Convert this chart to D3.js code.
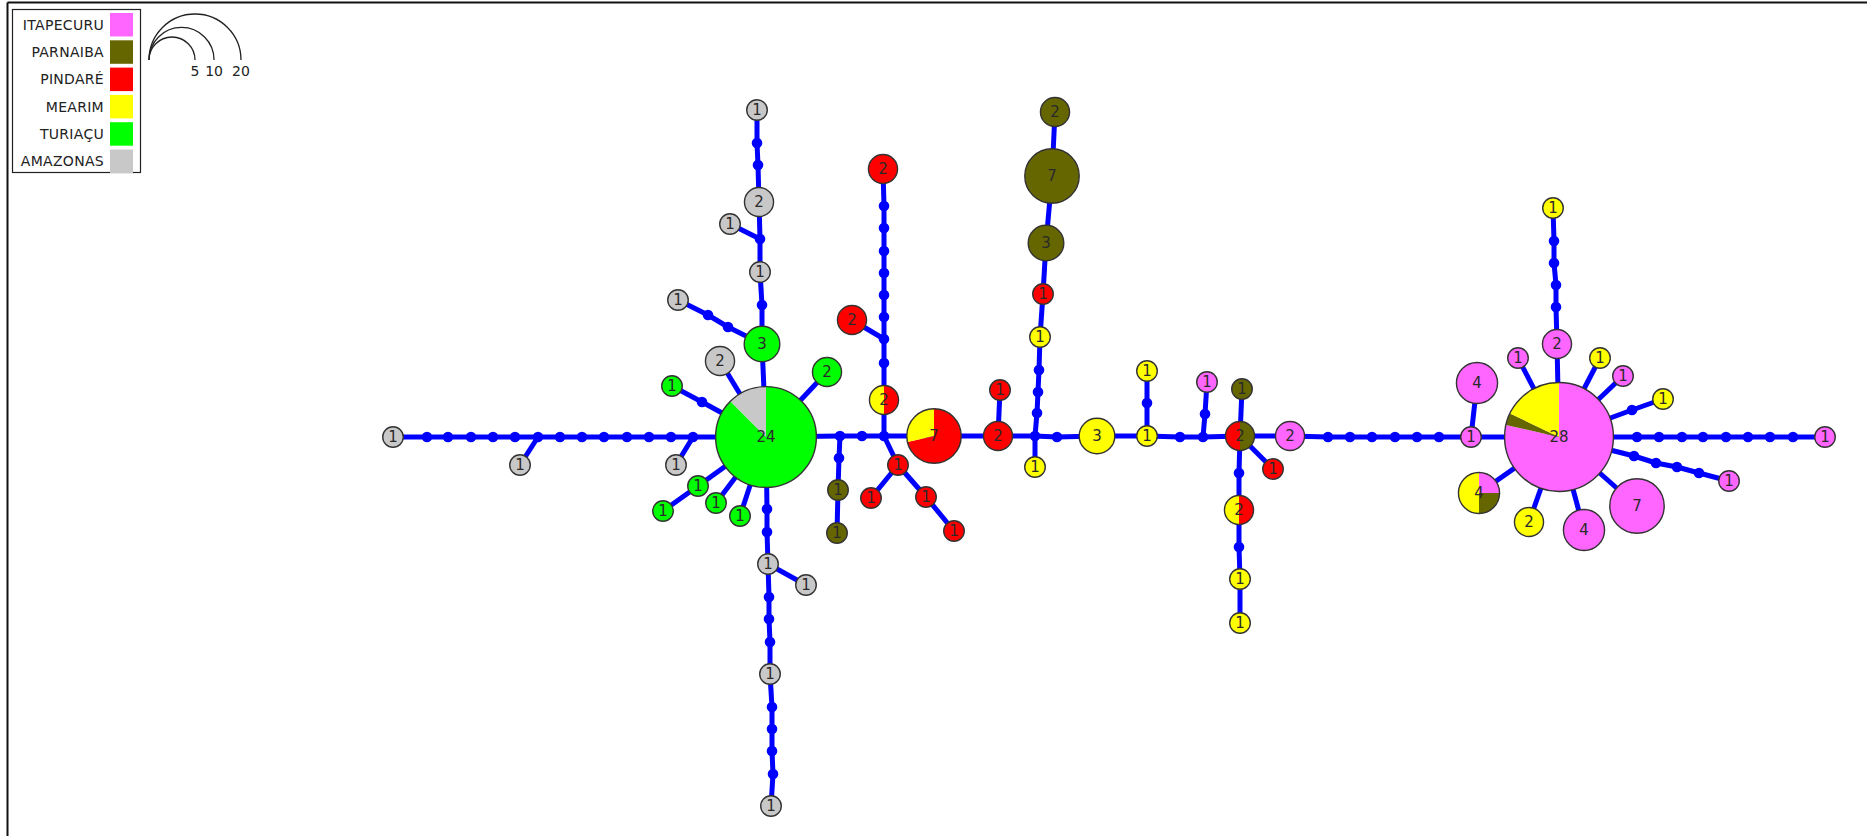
<!DOCTYPE html>
<html>
<head>
<meta charset="utf-8">
<script src="https://cdn.jsdelivr.net/npm/d3@7"></script>
<style>
  html, body { margin: 0; padding: 0; background: #fff; overflow: hidden; }
  svg { display: block; }
  text { font-family: "DejaVu Sans", Verdana, sans-serif; }
</style>
</head>
<body>
<svg id="chart" width="1867" height="836"></svg>
<script>
// ── Data ──────────────────────────────────────────────────────────────────────
const populations = ["ITAPECURU", "PARNAIBA", "PINDARÉ", "MEARIM", "TURIAÇU", "AMAZONAS"];
const popColors = ["#ff66ff", "#666600", "#ff0000", "#ffff00", "#00ff00", "#c8c8c8"];
const sizeLegend = [5, 10, 20];

// haplotype id, counts per population (same order as populations)
const haplotypes = [
  ["H1", [0, 0, 0, 0, 21, 3]], ["H2", [0, 0, 0, 0, 0, 1]], ["H3", [0, 0, 0, 0, 0, 2]],
  ["H4", [0, 0, 0, 0, 0, 1]], ["H5", [0, 0, 0, 0, 0, 1]], ["H6", [0, 0, 0, 0, 3, 0]],
  ["H7", [0, 0, 0, 0, 0, 1]], ["H8", [0, 0, 0, 0, 0, 2]], ["H9", [0, 0, 0, 0, 2, 0]],
  ["H10", [0, 0, 0, 0, 1, 0]], ["H11", [0, 0, 0, 0, 0, 1]], ["H12", [0, 0, 0, 0, 0, 1]],
  ["H13", [0, 0, 0, 0, 0, 1]], ["H14", [0, 0, 0, 0, 1, 0]], ["H15", [0, 0, 0, 0, 1, 0]],
  ["H16", [0, 0, 0, 0, 1, 0]], ["H17", [0, 0, 0, 0, 1, 0]], ["H18", [0, 0, 0, 0, 0, 1]],
  ["H19", [0, 0, 0, 0, 0, 1]], ["H20", [0, 0, 0, 0, 0, 1]], ["H21", [0, 0, 0, 0, 0, 1]],
  ["H22", [0, 1, 0, 0, 0, 0]], ["H23", [0, 1, 0, 0, 0, 0]], ["H24", [0, 0, 1, 1, 0, 0]],
  ["H25", [0, 0, 2, 0, 0, 0]], ["H26", [0, 0, 2, 0, 0, 0]], ["H27", [0, 0, 1, 0, 0, 0]],
  ["H28", [0, 0, 1, 0, 0, 0]], ["H29", [0, 0, 1, 0, 0, 0]], ["H30", [0, 0, 1, 0, 0, 0]],
  ["H31", [0, 0, 5, 2, 0, 0]], ["H32", [0, 0, 2, 0, 0, 0]], ["H33", [0, 0, 1, 0, 0, 0]],
  ["H34", [0, 0, 0, 1, 0, 0]], ["H35", [0, 0, 0, 1, 0, 0]], ["H36", [0, 0, 1, 0, 0, 0]],
  ["H37", [0, 3, 0, 0, 0, 0]], ["H38", [0, 7, 0, 0, 0, 0]], ["H39", [0, 2, 0, 0, 0, 0]],
  ["H40", [0, 0, 0, 3, 0, 0]], ["H41", [0, 0, 0, 1, 0, 0]], ["H42", [0, 0, 0, 1, 0, 0]],
  ["H43", [1, 0, 0, 0, 0, 0]], ["H44", [0, 1, 1, 0, 0, 0]], ["H45", [0, 1, 0, 0, 0, 0]],
  ["H46", [2, 0, 0, 0, 0, 0]], ["H47", [0, 0, 1, 0, 0, 0]], ["H48", [0, 0, 1, 1, 0, 0]],
  ["H49", [0, 0, 0, 1, 0, 0]], ["H50", [0, 0, 0, 1, 0, 0]], ["H51", [1, 0, 0, 0, 0, 0]],
  ["H52", [4, 0, 0, 0, 0, 0]], ["H53", [22, 1, 0, 5, 0, 0]], ["H54", [2, 0, 0, 0, 0, 0]],
  ["H55", [0, 0, 0, 1, 0, 0]], ["H56", [1, 0, 0, 0, 0, 0]], ["H57", [0, 0, 0, 1, 0, 0]],
  ["H58", [1, 0, 0, 0, 0, 0]], ["H59", [0, 0, 0, 1, 0, 0]], ["H60", [1, 0, 0, 0, 0, 0]],
  ["H61", [1, 0, 0, 0, 0, 0]], ["H62", [7, 0, 0, 0, 0, 0]], ["H63", [4, 0, 0, 0, 0, 0]],
  ["H64", [0, 0, 0, 2, 0, 0]], ["H65", [1, 1, 0, 2, 0, 0]],
];

// network layout (layout units), haplotypes and median vectors
const layout = [
  ["H1", 766, 437], ["H2", 757, 110], ["H3", 759, 202], ["H4", 730, 224], ["H5", 760, 272],
  ["H6", 762, 344], ["H7", 678, 300], ["H8", 720, 361], ["H9", 827, 372], ["H10", 672, 386],
  ["H11", 393, 437], ["H12", 520, 465], ["H13", 676, 465], ["H14", 698, 486], ["H15", 663, 511],
  ["H16", 716, 503], ["H17", 740, 516], ["H18", 768, 564], ["H19", 806, 585], ["H20", 770, 674],
  ["H21", 771, 806], ["H22", 838, 490], ["H23", 837, 533], ["H24", 884, 400], ["H25", 852, 320],
  ["H26", 883, 169], ["H27", 898, 465], ["H28", 871, 498], ["H29", 926, 497], ["H30", 954, 531],
  ["H31", 934, 436], ["H32", 998, 436], ["H33", 1000, 390], ["H34", 1035, 467], ["H35", 1040, 337],
  ["H36", 1043, 294], ["H37", 1046, 243], ["H38", 1052, 176], ["H39", 1055, 112], ["H40", 1097, 436],
  ["H41", 1147, 436], ["H42", 1147, 371], ["H43", 1207, 382], ["H44", 1240, 436], ["H45", 1242, 389],
  ["H46", 1290, 436], ["H47", 1273, 469], ["H48", 1239, 510], ["H49", 1240, 579], ["H50", 1240, 623],
  ["H51", 1471, 437], ["H52", 1477, 383], ["H53", 1559, 437], ["H54", 1557, 344], ["H55", 1553, 208],
  ["H56", 1518, 358], ["H57", 1600, 358], ["H58", 1623, 376], ["H59", 1663, 399], ["H60", 1825, 437],
  ["H61", 1729, 481], ["H62", 1637, 506], ["H63", 1584, 530], ["H64", 1529, 522], ["H65", 1479, 493],
  ["mv1", 762, 305], ["mv2", 760, 239], ["mv3", 758, 165], ["mv4", 757, 143],
  ["mv5", 728, 327], ["mv6", 708, 315], ["mv7", 702, 402],
  ["mv8", 693, 437], ["mv9", 671, 437], ["mv10", 649, 437], ["mv11", 627, 437], ["mv12", 604, 437],
  ["mv13", 582, 437], ["mv14", 560, 437], ["mv15", 538, 437], ["mv16", 515, 437], ["mv17", 493, 437],
  ["mv18", 471, 437], ["mv19", 448, 437], ["mv20", 427, 437],
  ["mv21", 767, 509], ["mv22", 767, 532], ["mv23", 769, 597], ["mv24", 769, 619], ["mv25", 770, 642],
  ["mv26", 772, 707], ["mv27", 772, 729], ["mv28", 772, 751], ["mv29", 773, 774],
  ["mv30", 840, 436], ["mv31", 862, 436], ["mv32", 884, 436], ["mv33", 839, 458],
  ["mv34", 884, 363], ["mv35", 884, 339], ["mv36", 884, 317], ["mv37", 884, 295], ["mv38", 884, 273],
  ["mv39", 884, 251], ["mv40", 884, 228], ["mv41", 884, 206],
  ["mv42", 1035, 436], ["mv43", 1037, 413], ["mv44", 1038, 392], ["mv45", 1039, 370],
  ["mv46", 1057, 437], ["mv47", 1147, 403], ["mv48", 1180, 437], ["mv49", 1203, 437], ["mv50", 1205, 414],
  ["mv51", 1239, 473], ["mv52", 1239, 547],
  ["mv53", 1328, 437], ["mv54", 1350, 437], ["mv55", 1372, 437], ["mv56", 1395, 437], ["mv57", 1417, 437],
  ["mv58", 1439, 437],
  ["mv59", 1556, 307], ["mv60", 1556, 285], ["mv61", 1554, 263], ["mv62", 1554, 241], ["mv63", 1632, 410],
  ["mv64", 1637, 437], ["mv65", 1659, 437], ["mv66", 1682, 437], ["mv67", 1703, 437], ["mv68", 1726, 437],
  ["mv69", 1748, 437], ["mv70", 1770, 437], ["mv71", 1793, 437],
  ["mv72", 1634, 456], ["mv73", 1656, 463], ["mv74", 1677, 467], ["mv75", 1699, 473],
];

// connections, written as chains of consecutive mutational steps
const edgePaths = [
  ["H1", "H6", "mv1", "H5", "mv2", "H3", "mv3", "mv4", "H2"], ["mv2", "H4"],
  ["H6", "mv5", "mv6", "H7"], ["H1", "mv7", "H10"],
  ["H1", "mv8", "mv9", "mv10", "mv11", "mv12", "mv13", "mv14", "mv15", "mv16", "mv17", "mv18", "mv19", "mv20", "H11"],
  ["mv8", "H13"], ["mv15", "H12"],
  ["H1", "H14", "H15"], ["H1", "H16"], ["H1", "H17"], ["H1", "H8"], ["H1", "H9"],
  ["H1", "mv21", "mv22", "H18", "mv23", "mv24", "mv25", "H20", "mv26", "mv27", "mv28", "mv29", "H21"],
  ["H18", "H19"],
  ["H1", "mv30", "mv31", "mv32"], ["mv30", "mv33", "H22", "H23"],
  ["mv32", "H24", "mv34", "mv35", "mv36", "mv37", "mv38", "mv39", "mv40", "mv41", "H26"], ["mv35", "H25"],
  ["mv32", "H27", "H28"], ["H27", "H29", "H30"],
  ["mv32", "H31", "H32", "mv42"], ["H32", "H33"],
  ["mv42", "H34"], ["mv42", "mv43", "mv44", "mv45", "H35", "H36", "H37", "H38", "H39"],
  ["mv42", "mv46", "H40", "H41", "mv48", "mv49", "H44"], ["H41", "mv47", "H42"], ["mv49", "mv50", "H43"],
  ["H44", "H45"], ["H44", "H47"], ["H44", "mv51", "H48", "mv52", "H49", "H50"],
  ["H44", "H46", "mv53", "mv54", "mv55", "mv56", "mv57", "mv58", "H51", "H53"], ["H51", "H52"],
  ["H53", "H54", "mv59", "mv60", "mv61", "mv62", "H55"],
  ["H53", "H56"], ["H53", "H57"], ["H53", "H58"], ["H53", "mv63", "H59"],
  ["H53", "mv64", "mv65", "mv66", "mv67", "mv68", "mv69", "mv70", "mv71", "H60"],
  ["H53", "mv72", "mv73", "mv74", "mv75", "H61"],
  ["H53", "H62"], ["H53", "H63"], ["H53", "H64"], ["H53", "H65"],
];

// ── Setup ─────────────────────────────────────────────────────────────────────
const W = 1867, H = 836;
const svg = d3.select("#chart");

const x = d3.scaleLinear().domain([0, 1867]).range([0, W]);
const y = d3.scaleLinear().domain([0, 836]).range([0, H]);
const r = d3.scaleSqrt().domain([0, 20]).range([0, 46]);
const color = d3.scaleOrdinal().domain(populations).range(popColors);

const pos = new Map(layout.map(([id, lx, ly]) => [id, { x: x(lx), y: y(ly) }]));

const links = [];
edgePaths.forEach((p) => {
  for (let i = 1; i < p.length; i++) links.push({ source: pos.get(p[i - 1]), target: pos.get(p[i]) });
});

const nodes = haplotypes.map(([id, counts]) => ({
  id,
  ...pos.get(id),
  total: d3.sum(counts),
  parts: counts.map((n, i) => ({ pop: populations[i], n })).filter((d) => d.n > 0),
}));
const medians = layout.filter((d) => d[0].startsWith("mv")).map((d) => pos.get(d[0]));

// window frame (top and left edges only)
svg.append("line").attr("x1", 7.5).attr("y1", 2.5).attr("x2", W).attr("y2", 2.5)
  .attr("stroke", "#111").attr("stroke-width", 2);
svg.append("line").attr("x1", 7.5).attr("y1", 2.5).attr("x2", 7.5).attr("y2", H)
  .attr("stroke", "#111").attr("stroke-width", 2);

// ── Network ───────────────────────────────────────────────────────────────────
const net = svg.append("g");

net.append("g").selectAll("line")
  .data(links)
  .join("line")
  .attr("x1", (d) => d.source.x).attr("y1", (d) => d.source.y)
  .attr("x2", (d) => d.target.x).attr("y2", (d) => d.target.y)
  .attr("stroke", "#0000ff")
  .attr("stroke-width", 5);

net.append("g").selectAll("circle")
  .data(medians)
  .join("circle")
  .attr("cx", (d) => d.x).attr("cy", (d) => d.y)
  .attr("r", 5.3)
  .attr("fill", "#0000ff");

const pie = d3.pie().sort(null).value((d) => d.n);

const node = net.append("g").selectAll("g")
  .data(nodes)
  .join("g")
  .attr("transform", (d) => `translate(${d.x},${d.y})`);

node.each(function (d) {
  const arc = d3.arc().innerRadius(0).outerRadius(r(d.total));
  d3.select(this).selectAll("path")
    .data(pie(d.parts))
    .join("path")
    .attr("d", arc)
    .attr("fill", (p) => color(p.data.pop));
});

node.append("circle")
  .attr("r", (d) => r(d.total))
  .attr("fill", "none")
  .attr("stroke", "#333")
  .attr("stroke-width", 1.4);

node.append("text")
  .text((d) => d.total)
  .attr("text-anchor", "middle")
  .attr("dy", "0.36em")
  .attr("font-size", "15px")
  .attr("fill", "#2a2a2a");

// ── Legend ────────────────────────────────────────────────────────────────────
const legend = svg.append("g");
legend.append("rect")
  .attr("x", 12.5).attr("y", 9.5).attr("width", 128).attr("height", 163)
  .attr("fill", "#fff").attr("stroke", "#222").attr("stroke-width", 1.2);

const row = d3.scaleBand().domain(populations).range([13, 173]).paddingInner(0.14);

legend.selectAll(".sw")
  .data(populations)
  .join("rect")
  .attr("class", "sw")
  .attr("x", 110).attr("y", (d) => row(d))
  .attr("width", 23).attr("height", row.bandwidth())
  .attr("fill", (d) => color(d));

legend.selectAll(".lab")
  .data(populations)
  .join("text")
  .attr("class", "lab")
  .attr("x", 104).attr("y", (d) => row(d) + row.bandwidth() / 2)
  .attr("dy", "0.36em")
  .attr("text-anchor", "end")
  .attr("font-size", "14px")
  .attr("letter-spacing", "0.3px")
  .attr("fill", "#222")
  .text((d) => d);

// circle size key: semicircles sharing their left end
const keyX = 149, keyY = 60;
const key = svg.append("g");
key.selectAll("path")
  .data(sizeLegend)
  .join("path")
  .attr("d", (n) => `M${keyX},${keyY} A${r(n)},${r(n)} 0 0 1 ${keyX + 2 * r(n)},${keyY}`)
  .attr("fill", "none")
  .attr("stroke", "#222")
  .attr("stroke-width", 1.3);

key.selectAll("text")
  .data(sizeLegend)
  .join("text")
  .attr("x", (n) => keyX + 2 * r(n))
  .attr("y", keyY + 16)
  .attr("text-anchor", "middle")
  .attr("font-size", "14px")
  .attr("fill", "#222")
  .text((n) => n);
</script>
</body>
</html>
